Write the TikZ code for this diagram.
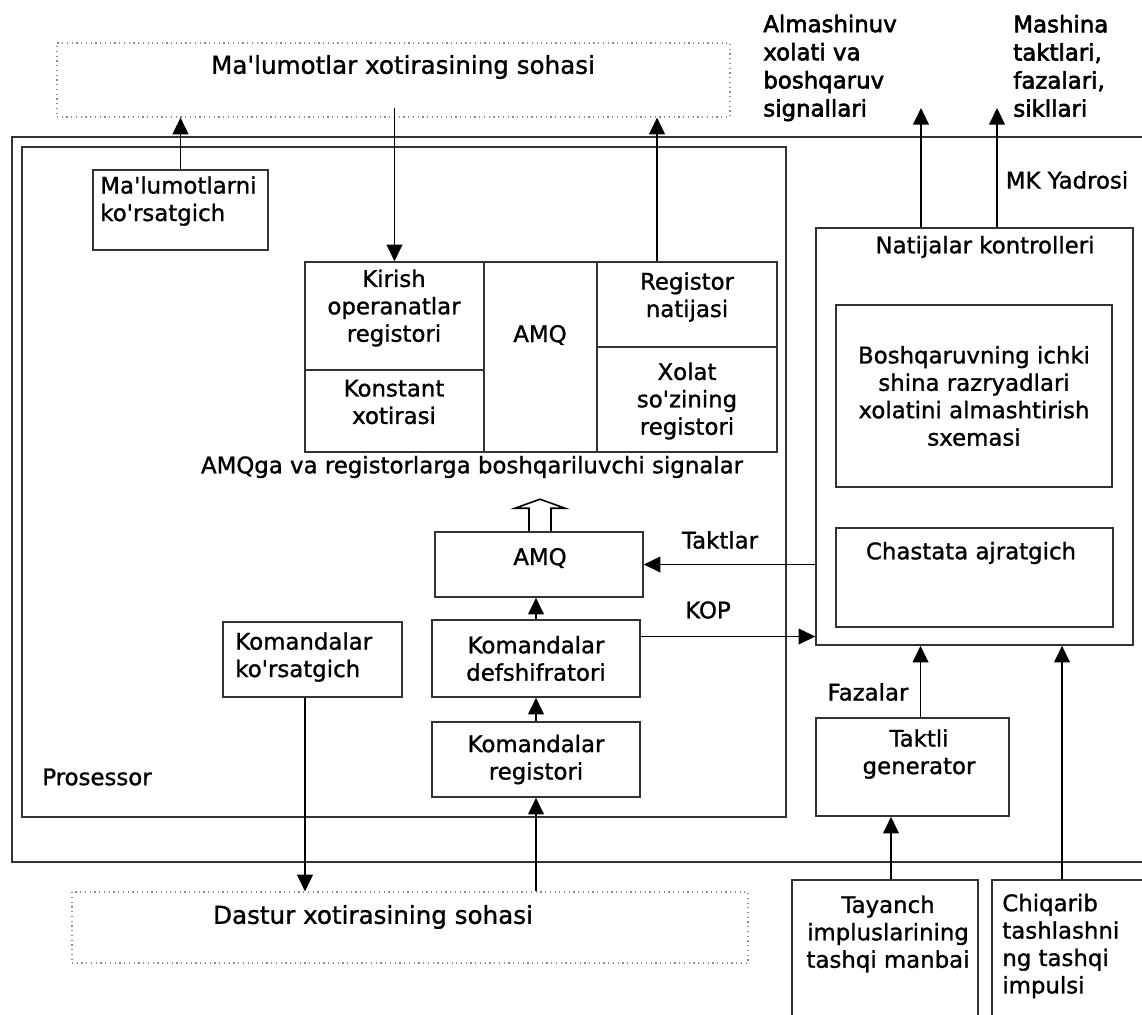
\documentclass[tikz,border=0pt]{standalone}
\usepackage{fontspec}
\setmainfont{DejaVu Sans}[FakeBold=1.2]
\newfontfamily\heavyfont{DejaVu Sans}[FakeBold=2.6]
\usetikzlibrary{arrows.meta}
\newcommand{\ap}{\textquotesingle}

\begin{document}
\begin{tikzpicture}[x=0.02cm,y=-0.02cm,
    font=\fontsize{13}{15.6}\selectfont,
    blk/.style 2 args={draw=black!80, line width=0.9pt, minimum width=#1*0.02cm, minimum height=#2*0.02cm, inner sep=0pt, align=center},
    area/.style 2 args={draw=black!45, dotted, line width=0.7pt, minimum width=#1*0.02cm, minimum height=#2*0.02cm, inner sep=0pt},
    arr/.style={-{Triangle[length=9.5pt,width=9pt]}, line width=0.9pt},
    txt/.style={align=center, inner sep=0pt}]
  \useasboundingbox (0,0) rectangle (1142,1014);
  \clip (0,0) rectangle (1142,1014);

  \node(mem) at (393.5,80) [area={673}{74}] {};
  \node(memt) at (403,67) [txt, font=\fontsize{14}{16}\selectfont] {Ma\ap lumotlar xotirasining sohasi};

  \node(core) at (582,499.5) [blk={1140}{725}] {};
  \node(proc) at (404,482) [blk={764}{670}] {};
  \node(proct) at (42,777) [anchor=west, inner sep=0pt] {Prosessor};

  \node(dptr) at (180.5,210) [blk={175}{80}] {};
  \node(dptrt) at (100,201) [txt, align=left, anchor=west] {Ma\ap lumotlarni\\ko\ap rsatgich};

  % registers around the ALU
  \node(kir) at (394.5,316) [blk={179}{108}] {};
  \node(kirt) at (394,308) [txt] {Kirish\\operanatlar\\registori};
  \node(kon) at (394.5,411) [blk={179}{82}] {};
  \node(kont) at (394,402) [txt] {Konstant\\xotirasi};
  \node(alu) at (540.5,357) [blk={113}{190}] {};
  \node(alut) at (540,335) [txt] {AMQ};
  \node(res) at (687,304.5) [blk={180}{85}] {};
  \node(rest) at (687,297) [txt] {Registor\\natijasi};
  \node(psw) at (687,399.5) [blk={180}{105}] {};
  \node(pswt) at (687,401) [txt] {Xolat\\so\ap zining\\registori};
  \node(sigt) at (472,467) [txt] {AMQga va registorlarga boshqariluvchi signalar};

  \node(cu) at (539,564.5) [blk={208}{65}] {};
  \node(cut) at (540,558) [txt] {AMQ};
  \node(dec) at (536,658.5) [blk={208}{77}] {Komandalar\\defshifratori};
  \node(ir) at (536,759.5) [blk={208}{75}] {Komandalar\\registori};
  \node(pc) at (312.5,659.5) [blk={179}{75}] {};
  \node(pct) at (235,657) [txt, align=left, anchor=west] {Komandalar\\ko\ap rsatgich};

  \node(prog) at (410,927.5) [area={676}{71}] {};
  \node(progt) at (373,917) [txt, font=\fontsize{14}{16}\selectfont] {Dastur xotirasining sohasi};

  % controller side
  \node(ctl) at (974.5,436.5) [blk={317}{417}] {};
  \node(ctlt) at (985,247) [txt] {Natijalar kontrolleri};
  \node(sw) at (974,396) [blk={276}{182}] {Boshqaruvning ichki\\shina razryadlari\\xolatini almashtirish\\sxemasi};
  \node(div) at (974.5,577.5) [blk={277}{99}] {};
  \node(divt) at (971,553) [txt] {Chastata ajratgich};
  \node(gen) at (912.5,767) [blk={193}{98}] {};
  \node(gent) at (919,754) [txt] {Taktli\\generator};
  \node(src) at (885,980) [blk={186}{200}] {};
  \node(srct) at (888,934) [txt] {Tayanch\\impluslarining\\tashqi manbai};
  \node(rst) at (1077,980) [blk={170}{200}] {};
  \node(rstt) at (1002,946) [txt, align=left, anchor=west] {Chiqarib\\tashlashni\\ng tashqi\\impulsi};

  \coordinate(swout) at (921,108);
  \coordinate(cycout) at (997,108);
  \node(swoutt) at (763,68) [txt, align=left, anchor=west, font=\heavyfont\fontsize{13}{16}\selectfont] {Almashinuv\\xolati va\\boshqaruv\\signallari};
  \node(cycoutt) at (1013,66) [txt, align=left, anchor=west, font=\heavyfont\fontsize{13}{16}\selectfont] {Mashina\\taktlari,\\fazalari,\\sikllari};
  \node(coret) at (1067,180) [txt] {MK Yadrosi};
  \node(taktt) at (720,540) [txt] {Taktlar};
  \node(kopt) at (708,610) [txt] {KOP};
  \node(fazt) at (868,692) [txt] {Fazalar};

  \draw[arr] (dptr.north) -- (dptr.north |- mem.south);
  \draw[arr] ([yshift=0.2cm]mem.south -| kir.north) -- (kir.north);
  \draw[arr] ([xshift=-0.6cm]res.north) -- ([xshift=-0.6cm]res.north |- mem.south);
  \draw[line width=0.9pt] ([xshift=-0.2cm]cu.north) -- ++(0,-23) -- ++(-14,0) -- ++(25,-9) -- ++(25,9) -- ++(-14,0) -- ++(0,23);
  \draw[arr] (ctl.west |- cu.east) -- (cu.east);
  \draw[arr] (dec.north) -- (dec.north |- cu.south);
  \draw[arr] ([yshift=0.44cm]dec.east) -- ([yshift=0.44cm]dec.east -| ctl.west);
  \draw[arr] (ir.north) -- (ir.north |- dec.south);
  \draw[arr] (ir.south |- prog.north) -- (ir.south);
  \draw[arr] ([xshift=-0.15cm]pc.south) -- ([xshift=-0.15cm]pc.south |- prog.north);
  \draw[arr] (ctl.north -| swout) -- (swout);
  \draw[arr] (ctl.north -| cycout) -- (cycout);
  \draw[arr] ([xshift=0.16cm]gen.north) -- ([xshift=0.16cm]gen.north |- ctl.south);
  \draw[arr] ([xshift=0.12cm]src.north) -- ([xshift=0.12cm]src.north |- gen.south);
  \draw[arr] ([xshift=-0.3cm]rst.north) -- ([xshift=-0.3cm]rst.north |- ctl.south);
\end{tikzpicture}
\end{document}
